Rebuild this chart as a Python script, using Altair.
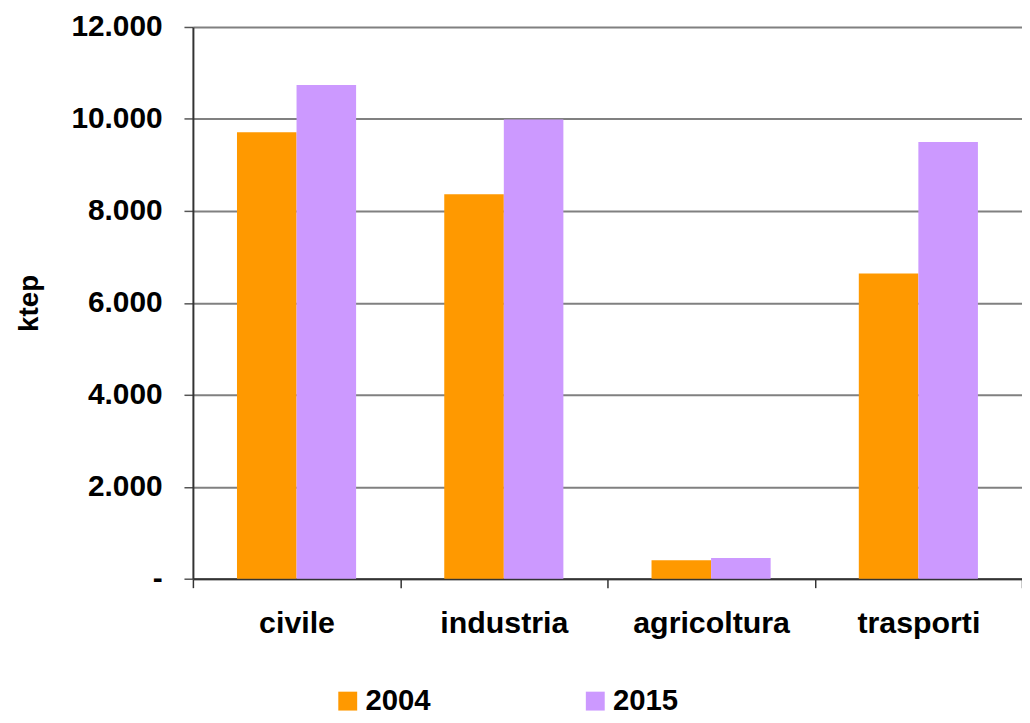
import altair as alt
import pandas as pd

categories = ["civile", "industria", "agricoltura", "trasporti"]
years = ["2004", "2015"]
values_2004 = [9710, 8360, 400, 6640]
values_2015 = [10740, 9990, 450, 9500]
y_ticks = [0, 2000, 4000, 6000, 8000, 10000, 12000]
colors = ["#FF9900", "#CC99FF"]

rows = []
for c, a, b in zip(categories, values_2004, values_2015):
    rows.append({"settore": c, "anno": "2004", "ktep": a})
    rows.append({"settore": c, "anno": "2015", "ktep": b})
df = pd.DataFrame(rows)

FONT = "Liberation Sans"

chart = alt.Chart(df).mark_bar().encode(
    x=alt.X("settore:N", sort=categories,
            scale=alt.Scale(paddingInner=0, paddingOuter=0),
            axis=alt.Axis(title=None, labelAngle=0, tickBand="extent",
                          labelFontSize=30.5, labelFont=FONT, labelFontWeight="bold",
                          labelColor="#000000", labelPadding=21,
                          tickSize=9, tickColor="#333333", tickWidth=1.5,
                          domainColor="#333333", domainWidth=2, grid=False)),
    xOffset=alt.XOffset("anno:N", sort=years,
                        scale=alt.Scale(paddingInner=0, paddingOuter=0.74)),
    y=alt.Y("ktep:Q",
            scale=alt.Scale(domain=[0, 12000], nice=False),
            axis=alt.Axis(title="ktep", values=y_ticks,
                          labelExpr="datum.value == 0 ? '-' : replace(format(datum.value, ','), ',', '.')",
                          labelFontSize=30, labelFont=FONT, labelFontWeight="bold",
                          labelColor="#000000", labelPadding=22,
                          titleFontSize=28, titleFont=FONT, titleFontWeight="bold",
                          titleColor="#000000", titlePadding=28,
                          tickSize=9, tickColor="#555555", tickWidth=1.5,
                          domainColor="#333333", domainWidth=2,
                          grid=True, gridColor="#808080", gridWidth=2)),
    color=alt.Color("anno:N", sort=years,
                    scale=alt.Scale(domain=years, range=colors),
                    legend=alt.Legend(title=None, orient="none", legendX=141, legendY=663,
                                      direction="horizontal", symbolType="square",
                                      symbolSize=361, symbolStrokeWidth=0,
                                      labelFontSize=29.5, labelFont=FONT, labelFontWeight="bold",
                                      labelColor="#000000", labelOffset=3,
                                      columnPadding=150)),
).properties(
    width=834,
    height=555,
    autosize=alt.AutoSizeParams(type="none"),
    padding={"left": 186, "top": 17, "right": 0, "bottom": 135},
).configure_view(
    stroke=None
).configure_axis(
    labelLimit=400
)

chart.save("out.html", embed_options={"renderer": "svg", "actions": False})
